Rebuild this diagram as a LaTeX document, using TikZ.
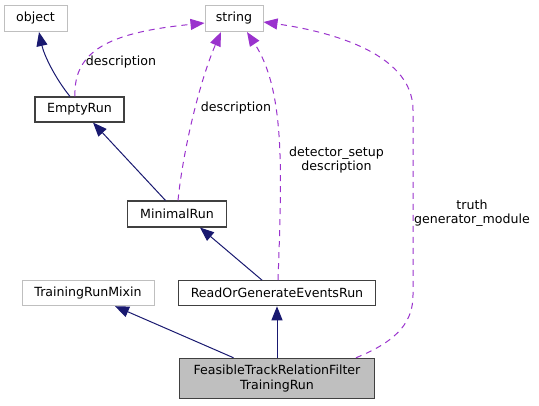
\documentclass[tikz,border=0pt]{standalone}
\usepackage{fontspec}
\setmainfont{DejaVu Sans}
\usetikzlibrary{arrows.meta}
\definecolor{navyedge}{HTML}{191970}
\definecolor{purpedge}{HTML}{9A32CD}
\definecolor{grayborder}{HTML}{BFBFBF}
\definecolor{darkborder}{HTML}{404040}
\definecolor{hlfill}{HTML}{BFBFBF}
\tikzset{
  cls/.style={draw=darkborder, line width=1.1pt, fill=white, inner sep=0pt, align=center,
    font=\fontsize{12.6}{14.5}\selectfont},
  ext/.style={cls, draw=grayborder, line width=1pt},
  cur/.style={cls, fill=hlfill},
  inh/.style={draw=navyedge, line width=1pt, -{Triangle[length=14pt,width=11pt]}},
  use/.style={draw=purpedge, line width=1pt, dash pattern=on 6pt off 5pt, -{Triangle[length=14pt,width=11pt]}},
  lbl/.style={inner sep=0pt, align=center, font=\fontsize{12.6}{14}\selectfont},
}
\begin{document}
\begin{tikzpicture}[x=1pt,y=-1pt]
\useasboundingbox (0,0) rectangle (539,405);
% nodes
\node[ext, minimum width=63pt, minimum height=26.5pt] (obj) at (35.5,18.3) {object};
\node[ext, minimum width=58pt, minimum height=26.5pt] (str) at (234,18.3) {string};
\node[cls, minimum width=89pt, minimum height=25pt] (er) at (79.5,109.5) {EmptyRun};
\node[cls, minimum width=99pt, minimum height=26pt] (mr) at (177,214) {MinimalRun};
\node[cls, minimum width=197pt, minimum height=25pt] (rg) at (277,293.2) {ReadOrGenerateEventsRun};
\node[ext, minimum width=132pt, minimum height=25pt] (tm) at (88,293.2) {TrainingRunMixin};
\node[cur, minimum width=195pt, minimum height=40pt] (fe) at (277,378.3) {FeasibleTrackRelationFilter\\TrainingRun};
% inheritance
\draw[inh] ([xshift=-9.5pt]er.north) .. controls (55,78) and (44,55) .. ([xshift=3.5pt]obj.south);
\draw[inh] ([xshift=-11.5pt]mr.north) -- ([xshift=13.5pt]er.south);
\draw[inh] ([xshift=-15pt]rg.north) -- ([xshift=23pt]mr.south);
\draw[inh] (fe.north) -- (rg.south);
\draw[inh] ([xshift=-43.5pt]fe.north) -- ([xshift=27pt]tm.south);
% usage
\draw[use] ([xshift=-4.5pt]er.north) .. controls (73,48) and (115,32) .. ([yshift=-4.7pt]str.west);
\draw[use] ([xshift=1pt]mr.north) .. controls (183,150) and (200,80) .. ([xshift=-13pt]str.south);
\draw[use] ([xshift=1pt]rg.north) .. controls (282,170) and (285,90) .. ([xshift=13pt]str.south);
\draw[use] ([xshift=79pt]fe.north) .. controls (400,340) and (413,320) .. (413,295) -- (413,110) .. controls (413,50) and (320,30) .. ([yshift=-3.7pt]str.east);
% labels
\node[lbl] (l1) at (121,62) {description};
\node[lbl] (l2) at (236,108) {description};
\node[lbl] (l3) at (336.5,160) {detector\_setup\\description};
\node[lbl] (l4) at (472,213) {truth\\generator\_module};
\end{tikzpicture}
\end{document}
